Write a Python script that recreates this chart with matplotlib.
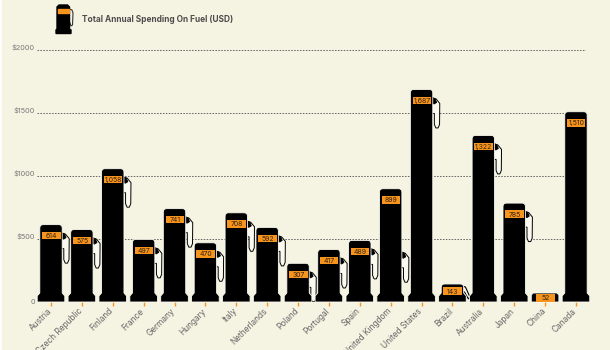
import numpy as np
import matplotlib.pyplot as plt
from matplotlib.path import Path
from matplotlib.patches import PathPatch, Rectangle, Polygon
from matplotlib.transforms import ScaledTranslation

countries = ['Austria', 'Czech Republic', 'Finland', 'France', 'Germany', 'Hungary',
             'Italy', 'Netherlands', 'Poland', 'Portugal', 'Spain', 'United Kingdom',
             'United States', 'Brazil', 'Australia', 'Japan', 'China', 'Canada']
spending = [614, 575, 1058, 497, 741, 470, 708, 592, 307, 417, 489, 899,
            1687, 143, 1322, 785, 52, 1510]
value_labels = ['614', '575', '1,058', '497', '741', '470', '708', '592', '307', '417',
                '489', '899', '1,687', '143', '1,322', '785', '52', '1,510']
y_ticks = [0, 500, 1000, 1500, 2000]
y_tick_labels = ['0', '$500', '$1000', '$1500', '$2000']

BG = '#f5f4e3'
ORANGE = '#f7941e'
TUBE = '#fbfaf0'
W, H = 610, 350

plt.rcParams['font.family'] = ['Inter', 'DejaVu Sans']

fig = plt.figure(figsize=(W / 100, H / 100), dpi=100, facecolor='white')
fig.patches.append(Rectangle((2 / W, 0), 1, 1, transform=fig.transFigure, color=BG, zorder=-5))

# axes placed in pixels: left 37, right 586, baseline y=302, $2000 at y=50
ax = fig.add_axes([37 / W, (H - 302) / H, 549 / W, 252 / H])
ax.patch.set_alpha(0)
ax.set_ylim(0, 2000)
PX_X = 30.88
ax.set_xlim((37 - 51) / PX_X, (586 - 51) / PX_X)
ux = 1 / PX_X       # one pixel in x data units
uy = 2000 / 252     # one pixel in y data units

for s in ax.spines.values():
    s.set_visible(False)

ax.set_yticks(y_ticks, y_tick_labels, color='#777777', fontsize=5.3)
ax.tick_params(axis='y', length=0, pad=1.5)
ax.set_xticks(range(len(countries)), countries, rotation=45, ha='right',
              rotation_mode='anchor', color='#666666', fontsize=6)
ax.tick_params(axis='x', length=3, width=1, color=ORANGE, pad=1)


def px_shift(dx, dy):
    return ScaledTranslation(dx / 100, dy / 100, fig.dpi_scale_trans)


# the tick labels sit a little above their lines in the original
for lab, v in zip(ax.get_yticklabels(), y_ticks):
    if v > 0:
        lab.set_transform(lab.get_transform() + px_shift(0, 3))
for lab in ax.get_xticklabels():
    lab.set_transform(lab.get_transform() + px_shift(-4, 1))

for v in y_ticks[1:]:
    ax.axhline(v, color='#666666', lw=0.7, ls=(0, (1.6, 1.4)), zorder=1)


def pump_body(x, top, half=11.2, base_half=13.8, base_h=9, r=3.5):
    hw, bw = half * ux, base_half * ux
    bh = base_h * uy
    rx, ry = r * ux, r * uy
    if top <= bh:
        # only the plinth, small bevel on top
        verts = [(x - bw, 0), (x - bw, 7 * uy), (x - bw + 2 * ux, bh), (x + bw - 2 * ux, bh),
                 (x + bw, 7 * uy), (x + bw, 0), (x - bw, 0)]
        codes = [Path.MOVETO] + [Path.LINETO] * 5 + [Path.CLOSEPOLY]
        return Path(verts, codes)
    verts = [(x - bw, 0), (x - bw, 6 * uy), (x - hw, bh), (x - hw, top - ry),
             (x - hw, top), (x - hw + rx, top), (x + hw - rx, top), (x + hw, top), (x + hw, top - ry),
             (x + hw, bh), (x + bw, 6 * uy), (x + bw, 0), (x - bw, 0)]
    codes = [Path.MOVETO, Path.LINETO, Path.LINETO, Path.LINETO,
             Path.CURVE3, Path.CURVE3, Path.LINETO, Path.CURVE3, Path.CURVE3,
             Path.LINETO, Path.LINETO, Path.LINETO, Path.CLOSEPOLY]
    return Path(verts, codes)


def draw_hose(x, top, drop=8):
    # hose hanging off the right side of the pump, offsets in pixels
    tube = np.array([[10, 0], [14.5, -1.5], [18.2, -6], [18, -27], [16.5, -30.5], [14.3, -30.5],
                     [12.8, -27], [12.8, -16], [10, -16]], dtype=float)
    head = np.array([[10, 0], [13.5, -1.5], [15, -5], [12.5, -6.5], [10, -5]], dtype=float)
    for pts, fc in ((tube, TUBE), (head, 'black')):
        xy = np.column_stack([x + pts[:, 0] * ux, top + (pts[:, 1] - drop) * uy])
        ax.add_patch(Polygon(xy, closed=True, facecolor=fc, edgecolor='black', lw=0.7, zorder=2))


for i, (val, lab) in enumerate(zip(spending, value_labels)):
    height_px = val / uy
    if val > 200:
        # UK hose hangs much lower than on the other pumps
        draw_hose(i, val, 63 if countries[i] == 'United Kingdom' else 8)
    elif val > 100:
        # short pump, hose goes out diagonally to the plinth
        pts = np.array([[9, -2], [13, -3], [17.5, -13], [16, -15], [12, -8], [9, -8]], dtype=float)
        xy = np.column_stack([i + pts[:, 0] * ux, val + pts[:, 1] * uy])
        ax.add_patch(Polygon(xy, closed=True, facecolor=TUBE, edgecolor='black', lw=0.8, zorder=2))
    ax.add_patch(PathPatch(pump_body(i, val), facecolor='black', edgecolor='#fbfbf2',
                           lw=0.6, zorder=3, clip_on=False))
    if val < 100:
        yc = 4.2 * uy
    else:
        yc = val - min(11, height_px * 0.4) * uy
    ax.add_patch(Rectangle((i - 9 * ux, yc - 3.8 * uy), 18.5 * ux, 7.6 * uy, facecolor=ORANGE,
                           edgecolor='none', zorder=4))
    ax.text(i + 0.25 * ux, yc, lab, ha='center', va='center_baseline', fontsize=5,
            color='#33230c', zorder=5)

# legend pump, drawn on a figure-wide pixel axes
lg = fig.add_axes([0, 0, 1, 1])
lg.set_xlim(0, W)
lg.set_ylim(H, 0)
lg.axis('off')
lg.plot([69.5, 72, 73, 72.5, 71, 70], [9, 10, 13, 25, 26, 23], color='#333333', lw=0.8, zorder=2)
lg.fill([57, 57, 59, 67.5, 69.5, 69.5, 71, 71, 56, 56, 57],
        [29, 7, 5, 5, 7, 29, 30, 33.5, 33.5, 30, 29], color='black', zorder=3)
lg.add_patch(Rectangle((57.5, 9), 11.5, 4, color=ORANGE, zorder=4))
lg.text(82, 20, 'Total Annual Spending On Fuel (USD)', fontsize=6, fontweight='bold',
        color='#4d4d4d', va='center', ha='left')

fig.savefig('out.png', dpi=100, facecolor=fig.get_facecolor())
